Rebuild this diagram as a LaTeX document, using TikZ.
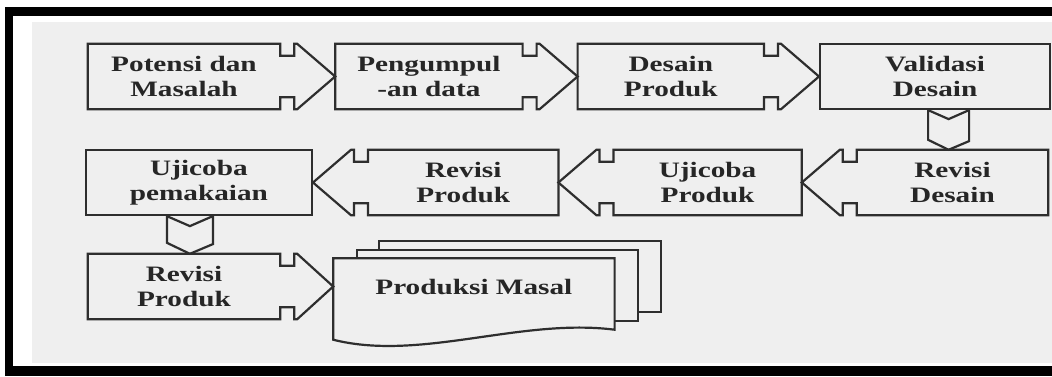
\documentclass[tikz,border=0pt]{standalone}
\usepackage{fontspec}
\newfontfamily\kotakfont{Liberation Serif}[FakeStretch=1.33]
\usepackage{tikz}
\usetikzlibrary{positioning,calc}
\definecolor{latar}{HTML}{EFEFEF}
\definecolor{gelap}{HTML}{2E2E2E}
\definecolor{teks}{HTML}{262626}
\tikzset{
	%Define style for boxes
	kotak/.style={
		rectangle,
		inner sep=0pt,
		minimum height=65pt,
		align=center,
		text=teks,
		font=\kotakfont\bfseries\fontsize{22}{25}\selectfont},
	garis/.style={
		draw=gelap,
		line width=2.2pt,
		line join=miter}
}

\begin{document}
\begin{tikzpicture}[x=1pt,y=-1pt,node distance=55pt]
	\useasboundingbox (0,0) rectangle (1052,376);
	% frame of the scan
	\fill[white] (0,0) rectangle (1052,376);
	\fill[black] (5,7) rectangle (1052,376);
	\fill[white] (13,16) rectangle (1052,366);
	\fill[latar] (32,22) rectangle (1052,363);
	% row 1
	\node[kotak, minimum width=192pt] (potensi) at (184,76.5) {Potensi dan\\Masalah};
	\node[kotak, minimum width=187pt, right=of potensi] (pengumpulan) {Pengumpul\\-an data};
	\node[kotak, minimum width=186pt, right=of pengumpulan] (desain) {Desain\\Produk};
	\node[kotak, garis, minimum width=230pt, right=of desain] (validasi) {Validasi\\Desain};
	% row 2
	\node[kotak, minimum width=191pt] (revdesain) at (952.5,182.5) {Revisi\\Desain};
	\node[kotak, minimum width=188pt, left=of revdesain] (ujiproduk) {Ujicoba\\Produk};
	\node[kotak, minimum width=190pt, left=of ujiproduk] (revproduk) {Revisi\\Produk};
	\node[kotak, garis, minimum width=226pt, left=of revproduk] (ujipakai) {Ujicoba\\pemakaian};
	% row 3
	\node[kotak, minimum width=192pt] (revproduk2) at (184,286.5) {Revisi\\Produk};
	\node[kotak, minimum width=281pt, minimum height=56pt, right=53pt of revproduk2] (masal) {Produksi Masal};
	% boxes with arrow to the right
	\foreach \a/\b in {potensi/pengumpulan, pengumpulan/desain, desain/validasi, revproduk2/masal}
		\draw[garis] (\a.north east) -- ++(0,12) -- ++(14,0) -- ++(0,-12) -- ++(3,0) -- (\b.west)
			-- ($(\a.south east)+(17,0)$) -- ++(-3,0) -- ++(0,-12) -- ++(-14,0) -- ++(0,12)
			-- (\a.south west) -- (\a.north west) -- cycle;
	% boxes with arrow to the left
	\foreach \a/\b in {revdesain/ujiproduk, ujiproduk/revproduk, revproduk/ujipakai}
		\draw[garis] (\a.north west) -- ++(0,12) -- ++(-14,0) -- ++(0,-12) -- ++(-3,0) -- (\b.east)
			-- ($(\a.south west)+(-17,0)$) -- ++(3,0) -- ++(0,-12) -- ++(14,0) -- ++(0,12)
			-- (\a.south east) -- (\a.north east) -- cycle;
	% arrows down
	\coordinate (turun1) at ($(validasi.south)+(13.5,0)$);
	\coordinate (turun2) at ($(ujipakai.south)+(-9,0)$);
	\draw[garis] ($(turun1)+(-20.5,0)$) -- ++(20.5,9) -- ++(20.5,-9) -- ++(0,31) -- (turun1 |- revdesain.north) -- ++(-20.5,-10) -- cycle;
	\draw[garis] ($(turun2)+(-23,0)$) -- ++(23,10) -- ++(23,-10) -- ++(0,28) -- (turun2 |- revproduk2.north) -- ++(-23,-11) -- cycle;
	% stack of documents
	\draw[garis] ($(masal.north west)+(46,-8)$) -- ++(0,-9) -| ($(masal.south east)+(46,-3)$) -- ++(-23,0);
	\draw[garis] ($(masal.north west)+(24,0)$) -- ++(0,-8) -| ($(masal.south east)+(23,6)$) -- ++(-23,0);
	\draw[garis] (masal.north west) -- (masal.north east) -- ($(masal.south east)+(0,15)$)
		.. controls +(-94,-12) and +(87,22) .. ($(masal.south west)+(0,25)$) -- cycle;
\end{tikzpicture}
\end{document}
